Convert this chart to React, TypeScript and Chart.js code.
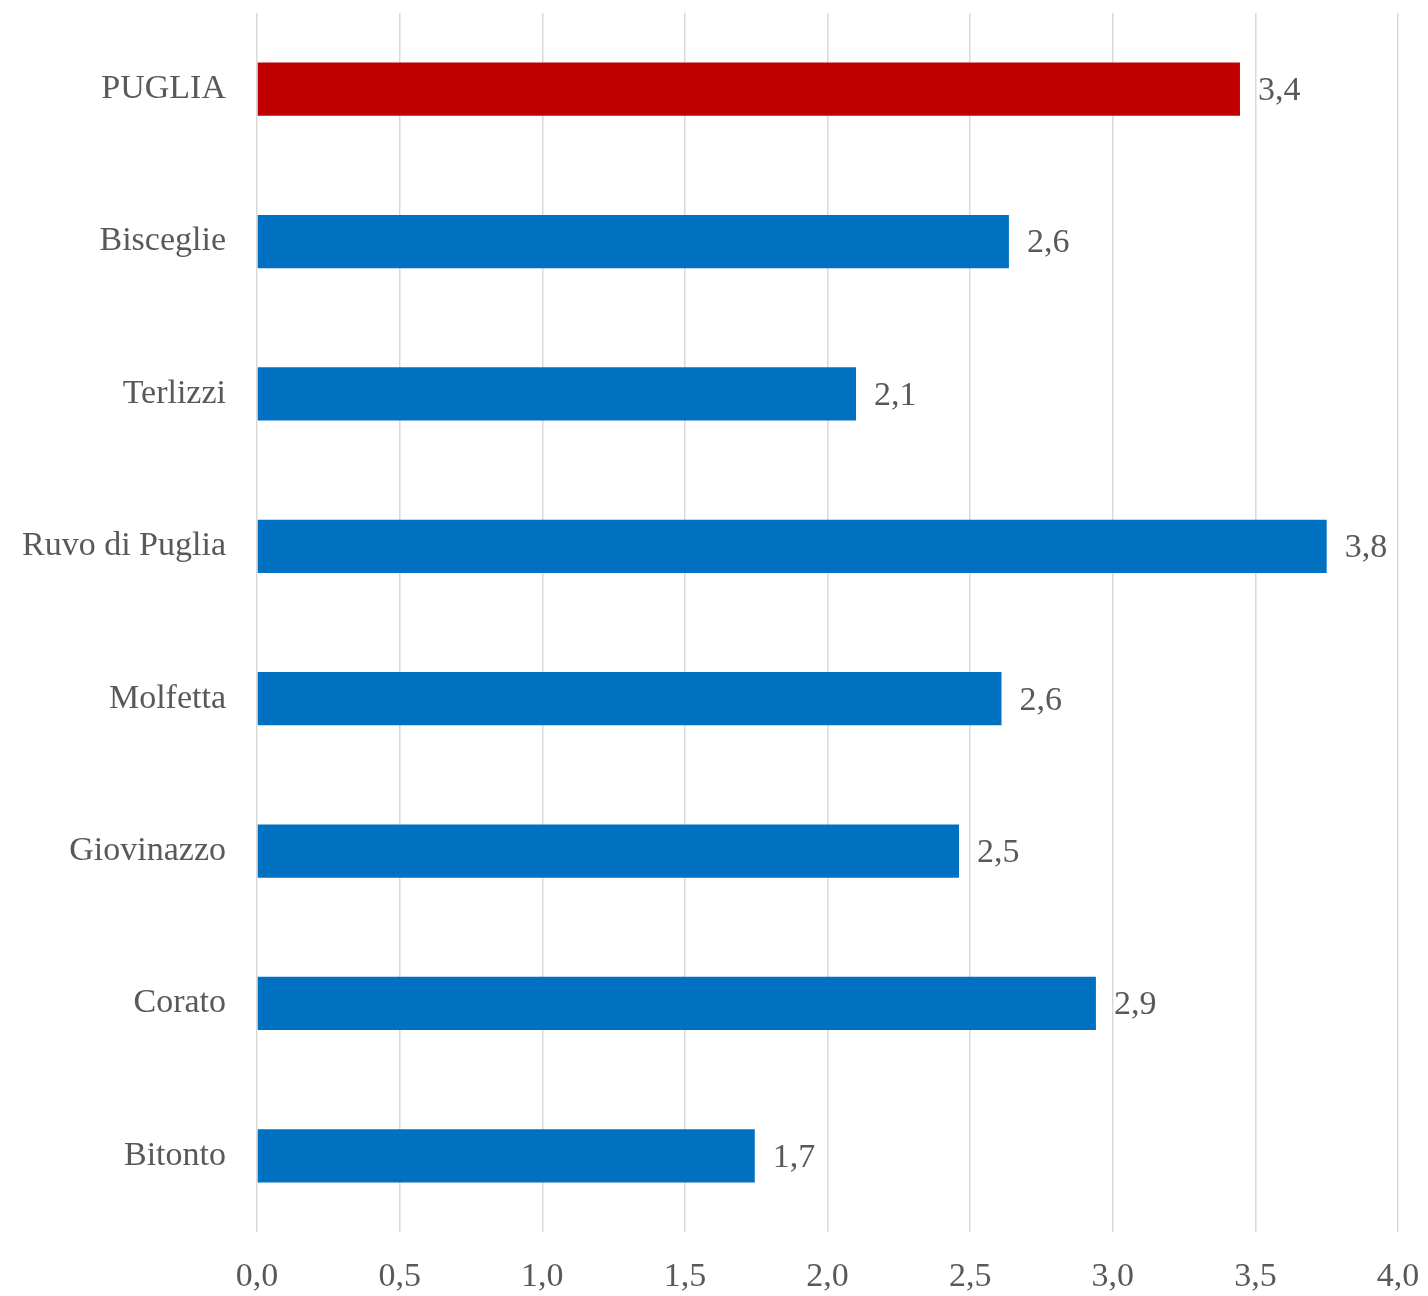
import React, { useEffect, useRef } from "react";
import { Chart, registerables } from "chart.js";

Chart.register(...registerables);

const categories = ["PUGLIA", "Bisceglie", "Terlizzi", "Ruvo di Puglia", "Molfetta", "Giovinazzo", "Corato", "Bitonto"];
const values = [3.446, 2.636, 2.1, 3.75, 2.61, 2.461, 2.941, 1.745];
const barColors = ["#C00000", "#0070C0", "#0070C0", "#0070C0", "#0070C0", "#0070C0", "#0070C0", "#0070C0"];
const xMin = 0;
const xMax = 4;
const xStep = 0.5;

const FONT = "'Liberation Serif', 'DejaVu Serif', serif";
const TEXT = "#595959";

const fmt = (v: number, d: number) => v.toFixed(d).replace(".", ",");

const valueLabels = {
  id: "valueLabels",
  afterDatasetsDraw(chart: any) {
    const ctx = chart.ctx;
    const meta = chart.getDatasetMeta(0);
    ctx.save();
    ctx.font = `34px ${FONT}`;
    ctx.fillStyle = TEXT;
    ctx.textAlign = "left";
    ctx.textBaseline = "middle";
    meta.data.forEach((bar: any, i: number) => {
      ctx.fillText(fmt(values[i], 1), bar.x + 18, bar.y + 2);
    });
    ctx.restore();
  },
};

export default function App() {
  const ref = useRef<HTMLCanvasElement>(null);
  useEffect(() => {
    document.body.style.margin = "0";
    const chart = new Chart(ref.current!, {
      type: "bar",
      data: {
        labels: categories,
        datasets: [
          {
            data: values,
            backgroundColor: barColors,
            barPercentage: 0.35,
            categoryPercentage: 1,
          },
        ],
      },
      options: {
        indexAxis: "y",
        animation: false,
        responsive: false,
        maintainAspectRatio: false,
        layout: { padding: { top: 13, right: 30, left: 0, bottom: 0 } },
        plugins: { legend: { display: false }, tooltip: { enabled: false } },
        scales: {
          x: {
            min: xMin,
            max: xMax,
            border: { display: false },
            grid: { color: "#d9d9d9", lineWidth: 1.5, drawTicks: false },
            ticks: {
              stepSize: xStep,
              padding: 25,
              color: TEXT,
              font: { family: FONT, size: 34 },
              callback: (v: any) => fmt(Number(v), 1),
            },
            afterFit: (s: any) => {
              s.height = 64;
              s.paddingLeft = 0;
              s.paddingRight = 0;
            },
          },
          y: {
            border: { display: false },
            grid: { display: false },
            ticks: {
              color: TEXT,
              padding: 23,
              font: { family: FONT, size: 34 },
            },
            afterFit: (s: any) => {
              s.width = 257;
              s.paddingTop = 0;
              s.paddingBottom = 0;
            },
          },
        },
      },
      plugins: [valueLabels],
    });
    return () => chart.destroy();
  }, []);
  return (
    <div style={{ width: 1428, height: 1296 }}>
      <canvas ref={ref} width={1428} height={1296} style={{ display: "block" }} />
    </div>
  );
}
